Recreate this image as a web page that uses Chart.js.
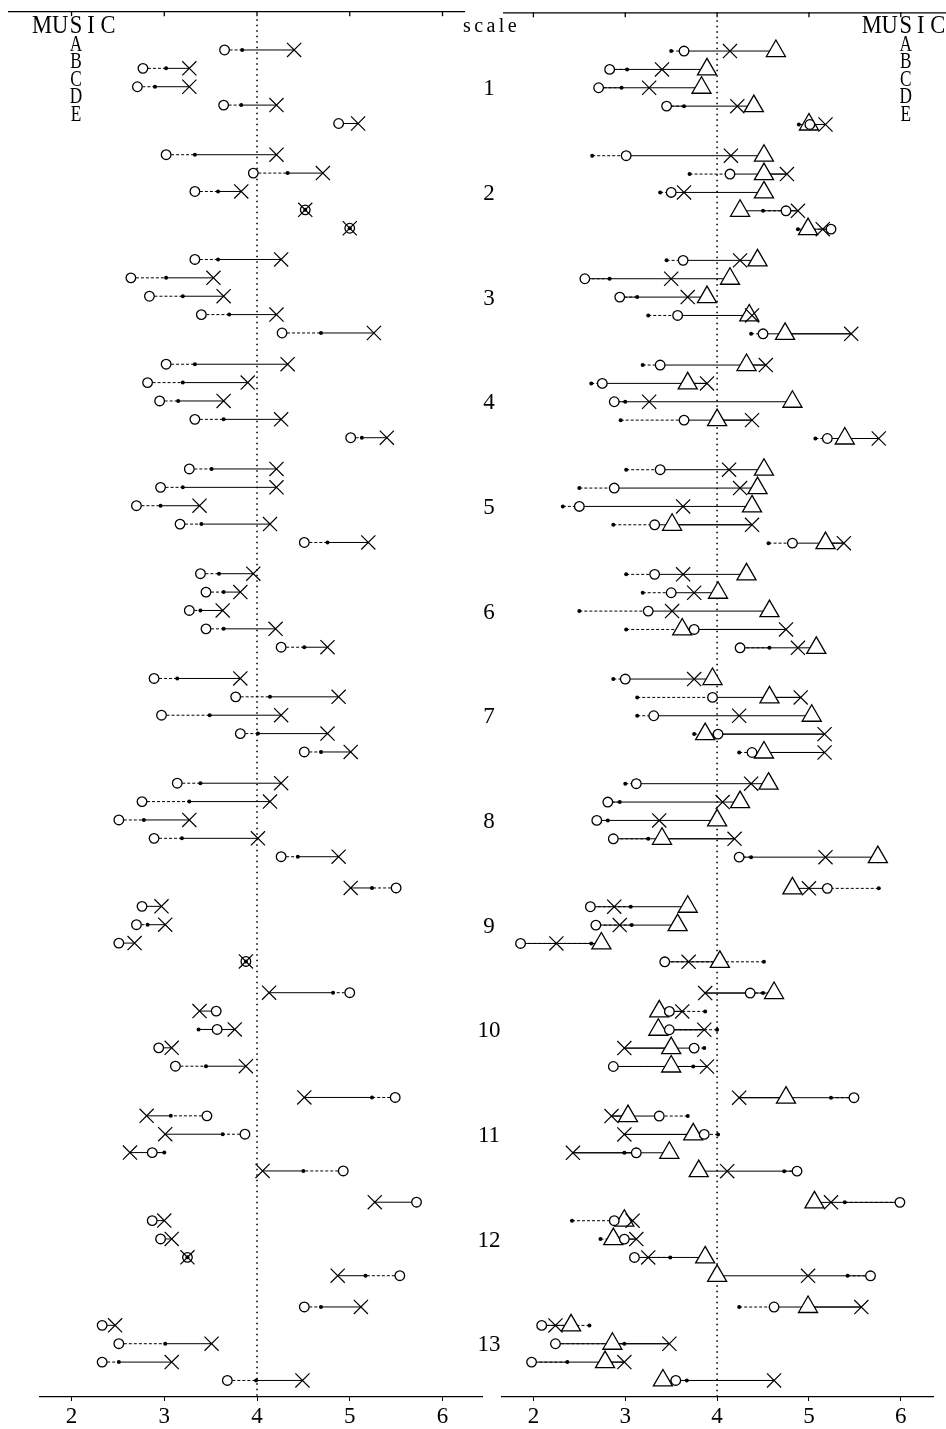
<!DOCTYPE html>
<html>
<head>
<meta charset="UTF-8">
<title>MUSIC scale</title>
<script src="https://cdn.jsdelivr.net/npm/chart.js@4.4.0/dist/chart.umd.min.js"></script>
<style>
body { margin:0; background:#fff; }
#wrap { position:relative; width:946px; height:1429px; }
#wrap canvas { position:absolute; left:0; top:0; }
</style>
</head>
<body>
<div id="wrap">
<canvas id="leftChart" width="946" height="1429"></canvas>
<canvas id="rightChart" width="946" height="1429"></canvas>
</div>
<script>
var scaleNums = [1,2,3,4,5,6,7,8,9,10,11,12,13];
var music = ['A','B','C','D','E'];
var xTicks = [2,3,4,5,6];

// left panel: o , dot , X  (rows: scale 1 A..E, scale 2 A..E, ...)
var leftO = [
 3.65,2.77,2.71,3.64,4.88,  3.02,3.96,3.33,4.52,5.00,  3.33,2.64,2.84,3.40,4.27,
 3.02,2.82,2.95,3.33,5.01,  3.27,2.96,2.70,3.17,4.51,  3.39,3.45,3.27,3.45,4.26,
 2.89,3.77,2.97,3.82,4.51,  3.14,2.76,2.51,2.89,4.26,  5.50,2.76,2.70,2.51,3.88,
 5.00,3.56,3.57,2.94,3.12,  5.49,3.46,3.87,2.87,4.93,  5.72,2.87,2.96,3.25,5.54,
 4.51,2.33,2.51,2.33,3.68
];
var leftDot = [
 3.84,3.02,2.90,3.83,null,  3.33,4.33,3.58,4.52,5.00,  3.58,3.02,3.20,3.70,4.69,
 3.33,3.20,3.15,3.64,5.13,  3.51,3.20,2.96,3.40,4.76,  3.59,3.64,3.39,3.64,4.51,
 3.14,4.14,3.49,4.01,4.69,  3.39,3.27,2.78,3.19,4.44,  5.24,null,2.82,null,3.88,
 4.82,null,3.37,null,3.45,  5.24,3.07,3.63,3.00,4.50,  null,null,null,3.25,5.17,
 4.69,null,3.01,2.51,3.99
];
var leftX = [
 4.40,3.27,3.27,4.21,5.09,  4.21,4.71,3.83,4.52,5.00,  4.26,3.53,3.64,4.21,5.26,
 4.33,3.90,3.64,4.26,5.40,  4.21,4.21,3.38,4.14,5.20,  3.96,3.82,3.63,4.20,4.76,
 3.82,4.88,4.26,4.76,5.01,  4.26,4.14,3.27,4.01,4.88,  5.01,2.97,3.01,2.68,3.88,
 4.13,3.38,3.76,3.08,3.88,  4.51,2.81,3.01,2.63,4.06,  5.27,3.00,3.08,3.25,4.87,
 5.12,2.47,3.51,3.08,4.49
];

// right panel: dot , o , X , triangle
var rightDot = [
 3.50,3.02,2.96,3.64,4.89,  2.64,3.70,3.38,4.50,4.88,  3.45,2.83,3.13,3.25,4.37,
 3.19,2.63,3.00,2.95,5.07,  3.01,2.50,2.32,2.87,4.56,  3.01,3.19,2.50,3.01,4.57,
 2.87,3.13,3.13,3.75,4.24,  3.00,2.94,2.81,3.25,4.37,  5.76,3.06,3.07,2.63,4.51,
 4.50,3.87,4.00,3.86,3.74,  5.24,3.68,4.01,2.99,4.73,  5.39,2.42,2.73,3.49,5.42,
 4.24,2.61,2.99,2.37,3.67
];
var rightO = [
 3.64,2.83,2.71,3.45,5.01,  3.01,4.14,3.50,4.75,5.24,  3.63,2.56,2.94,3.57,4.50,
 3.38,2.75,2.88,3.64,5.20,  3.38,2.88,2.50,3.32,4.82,  3.32,3.50,3.25,3.75,4.25,
 3.00,3.95,3.31,4.01,4.38,  3.12,2.81,2.69,2.87,4.24,  5.20,2.62,2.68,1.86,3.43,
 4.36,3.48,3.48,3.75,2.87,  5.49,3.37,3.86,3.12,4.87,  5.99,2.88,2.99,3.10,5.67,
 4.62,2.09,2.24,1.98,3.55
];
var rightX = [
 4.14,3.40,3.26,4.22,5.18,  4.15,4.76,3.64,4.88,5.15,  4.25,3.50,3.68,4.38,5.46,
 4.53,3.89,3.26,4.38,5.76,  4.13,4.25,3.63,4.38,5.38,  3.63,3.75,3.51,4.75,4.88,
 3.75,4.91,4.24,5.17,5.17,  4.37,4.06,3.37,4.19,5.18,  5.00,2.88,2.94,2.25,3.69,
 3.87,3.62,3.86,2.99,3.89,  4.24,2.85,2.99,2.43,4.11,  5.24,3.08,3.12,3.25,4.99,
 5.57,2.24,3.48,2.99,4.62
];
var rightTri = [
 4.64,3.89,3.83,4.40,5.00,  4.51,4.51,4.51,4.25,4.99,  4.44,4.14,3.89,4.35,4.74,
 4.32,3.68,4.82,4.00,5.39,  4.51,4.44,4.38,3.51,5.18,  4.32,4.01,4.57,3.62,5.08,
 3.95,4.57,5.03,3.87,4.51,  4.56,4.25,4.00,3.40,5.75,  4.82,3.68,3.57,2.74,4.03,
 4.62,3.37,3.36,3.50,3.50,  4.75,3.03,3.74,3.48,3.80,  5.06,2.99,2.87,3.87,4.00,
 4.99,2.41,2.86,2.78,3.41
];

var FONT = "'Liberation Serif', 'DejaVu Serif', serif";

// row i -> vertical position (5 music rows per scale, gap between scales)
function rowPos(i) {
  var s = Math.floor(i / 5), r = i % 5;
  return s * 5.7 + r;
}

// one connecting line per row, in path order; first pair drawn dashed
function rowLines(seq) {
  var sets = [];
  for (var i = 0; i < seq[0].length; i++) {
    var pts = [], kinds = [];
    for (var k = 0; k < seq.length; k++) {
      if (seq[k][i] !== null) { pts.push({x: seq[k][i], y: rowPos(i)}); kinds.push(k); }
    }
    (function(kinds) {
      sets.push({
        data: pts, showLine: true, pointRadius: 0, borderColor: '#000', borderWidth: 1, order: 10,
        segment: {
          borderDash: function(ctx) {
            return (kinds[ctx.p0DataIndex] === 0 && kinds[ctx.p1DataIndex] === 1) ? [3, 2] : undefined;
          }
        }
      });
    })(kinds);
  }
  return sets;
}

function markers(vals, style) {
  var pts = [];
  vals.forEach(function(v, i) { if (v !== null) pts.push({x: v, y: rowPos(i)}); });
  var ds = {data: pts, showLine: false, clip: false};
  for (var k in style) ds[k] = style[k];
  return ds;
}

var circleStyle = {pointStyle: 'circle', pointRadius: 4.8, backgroundColor: '#fff', borderColor: '#000', pointBorderWidth: 1.3, order: 3};
var dotStyle = {pointStyle: 'circle', pointRadius: 2, backgroundColor: '#000', borderColor: '#000', pointBorderWidth: 0, order: 2};
var crossStyle = {pointStyle: 'crossRot', pointRadius: 10, backgroundColor: '#000', borderColor: '#000', pointBorderWidth: 1.2, order: 1};
var triStyle = {pointStyle: 'triangle', pointRadius: 11, backgroundColor: '#fff', borderColor: '#000', pointBorderWidth: 1.3, order: 4};

// condensed serif letter, centred on x
function tallText(ctx, txt, x, y, size, squeeze) {
  ctx.save();
  ctx.translate(x, y);
  ctx.scale(squeeze, 1);
  ctx.font = size + 'px ' + FONT;
  ctx.textAlign = 'center';
  ctx.fillText(txt, 0, 0);
  ctx.restore();
}

// frame, dotted line at 4 and the labels
var panelDeco = {
  id: 'panelDeco',
  beforeDatasetsDraw: function(chart) {
    var ctx = chart.ctx, area = chart.chartArea;
    var p4 = chart.scales.x.getPixelForValue(4);
    ctx.save();
    ctx.strokeStyle = '#000';
    ctx.lineWidth = 1.6;
    ctx.setLineDash([1.5, 4]);
    ctx.beginPath(); ctx.moveTo(p4, area.top + 8); ctx.lineTo(p4, area.bottom); ctx.stroke();
    ctx.restore();
  },
  afterDraw: function(chart, args, opts) {
    var ctx = chart.ctx, area = chart.chartArea, xs = chart.scales.x, ys = chart.scales.y;
    ctx.save();
    ctx.strokeStyle = '#000'; ctx.fillStyle = '#000';
    ctx.lineWidth = 1.3;
    var from = opts.side === 'left' ? area.left - 32 : area.left + 1;
    var to = opts.side === 'left' ? area.right - 17 : chart.width;
    ctx.beginPath(); ctx.moveTo(from, area.top + 0.5); ctx.lineTo(to, area.top + 0.5); ctx.stroke();
    xTicks.forEach(function(v) {
      var px = xs.getPixelForValue(v);
      ctx.beginPath(); ctx.moveTo(px, area.top); ctx.lineTo(px, area.top + 5); ctx.stroke();
    });

    // MUSIC with A..E stacked under the S
    var sCol = opts.side === 'left' ? area.left + 36 : area.right - 28;
    ctx.textBaseline = 'alphabetic';
    var word = ['M', 'U', 'S', 'I', 'C'], offs = [-34, -16, 0, 15, 32];
    word.forEach(function(ch, k) { tallText(ctx, ch, sCol + offs[k], 33, 25, 0.9); });
    music.forEach(function(m, k) { tallText(ctx, m, sCol, 50.5 + k * 17.6, 24, 0.72); });

    if (opts.side === 'right') {
      // "scale" column with the scale numbers
      ctx.font = '20px ' + FONT;
      var sc = 'scale', cx = 463;
      for (var i = 0; i < sc.length; i++) {
        ctx.textAlign = 'left';
        ctx.fillText(sc[i], cx, 32);
        cx += ctx.measureText(sc[i]).width + 3.4;
      }
      ctx.textAlign = 'center';
      ctx.font = '23px ' + FONT;
      scaleNums.forEach(function(n, s) {
        ctx.fillText(String(n), 489, ys.getPixelForValue(s * 5.7 + 2) + 7.5);
      });
    }
    ctx.restore();
  }
};

function makeChart(id, side, lines, marks, padL, padR, xmin, xmax) {
  return new Chart(document.getElementById(id).getContext('2d'), {
    type: 'scatter',
    data: { datasets: lines.concat(marks) },
    options: {
      responsive: false,
      animation: false,
      devicePixelRatio: 1,
      layout: { padding: { left: padL, right: padR, top: 6, bottom: 0 } },
      plugins: { legend: { display: false }, tooltip: { enabled: false }, panelDeco: { side: side } },
      scales: {
        x: {
          type: 'linear', position: 'bottom', min: xmin, max: xmax,
          afterBuildTicks: function(axis) { axis.ticks = xTicks.map(function(v) { return {value: v}; }); },
          afterFit: function(axis) { axis.height = 32; },
          grid: { drawOnChartArea: false, drawTicks: true, tickLength: 4, color: '#000', lineWidth: 1 },
          border: { display: true, color: '#000', width: 1.2 },
          ticks: { color: '#000', font: { family: FONT, size: 23 }, padding: 2, maxRotation: 0 }
        },
        y: { type: 'linear', display: false, reverse: true, min: -2.11, max: 73.3 }
      }
    },
    plugins: [panelDeco]
  });
}

makeChart('leftChart', 'left',
  rowLines([leftO, leftDot, leftX]),
  [markers(leftO, circleStyle), markers(leftDot, dotStyle), markers(leftX, crossStyle)],
  40, 946 - 482, 1.66, 6.426);

makeChart('rightChart', 'right',
  rowLines([rightDot, rightO, rightX, rightTri]),
  [markers(rightTri, triStyle), markers(rightO, circleStyle), markers(rightDot, dotStyle), markers(rightX, crossStyle)],
  502, 11, 1.658, 6.358);
</script>
</body>
</html>
